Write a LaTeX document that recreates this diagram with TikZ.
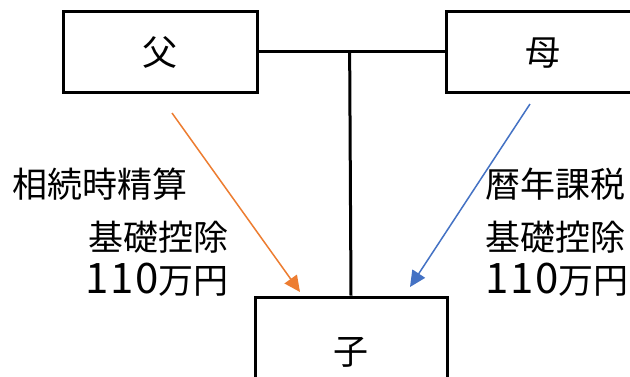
\documentclass[tikz,border=0pt]{standalone}
\usepackage{fontspec}
\setmainfont{Noto Sans CJK JP}
\usetikzlibrary{arrows.meta}
\definecolor{arrorange}{HTML}{ED7D31}
\definecolor{arrblue}{HTML}{4472C4}
\newcommand{\widedigits}[1]{{\fontsize{42}{40}\selectfont\addfontfeature{LetterSpace=4}#1}}
\begin{document}
\begin{tikzpicture}[x=1pt,y=-1pt,
  person/.style={draw=black,line width=3pt,inner sep=0pt,minimum width=194pt,minimum height=81pt},
  bigtext/.style={inner sep=0pt,font=\fontsize{35}{40}\selectfont},
  famline/.style={draw=black,line width=3pt},
  giftarrow/.style={line width=1.5pt,-{Triangle[length=16pt,width=15pt]}}]
\useasboundingbox (0,0) rectangle (630,376);
\fill[white] (0,0) rectangle (630,376);
\node[person] (father) at (160,51.5) {};
\node[person] (mother) at (543,51.5) {};
\node[person,minimum width=192pt,minimum height=110pt] (child) at (351,352) {};
\node[bigtext,anchor=base] (ft) at (160,65) {父};
\node[bigtext,anchor=base] (mt) at (543,65) {母};
\node[bigtext,anchor=base] (ct) at (351,364) {子};
\draw[famline] (father.east) -- (mother.west) coordinate[pos=0.49] (mid);
\draw[famline] (mid) -- (child.north);
\coordinate (fs) at (172,113);
\coordinate (fe) at (300,292);
\coordinate (ms) at (530,104);
\coordinate (me) at (410,287);
\draw[giftarrow,draw=arrorange,fill=arrorange] (fs) -- (fe);
\draw[giftarrow,draw=arrblue,fill=arrblue] (ms) -- (me);
\node[bigtext,anchor=base west] (l1) at (12,197) {相続時精算};
\node[bigtext,anchor=base east] (l2) at (229,250) {基礎控除};
\node[bigtext,anchor=base east] (l3) at (229,293) {\widedigits{110}万円};
\node[bigtext,anchor=base west] (r1) at (485,197) {暦年課税};
\node[bigtext,anchor=base west] (r2) at (485,250) {基礎控除};
\node[bigtext,anchor=base west] (r3) at (485,293) {\widedigits{110}万円};
\end{tikzpicture}
\end{document}
